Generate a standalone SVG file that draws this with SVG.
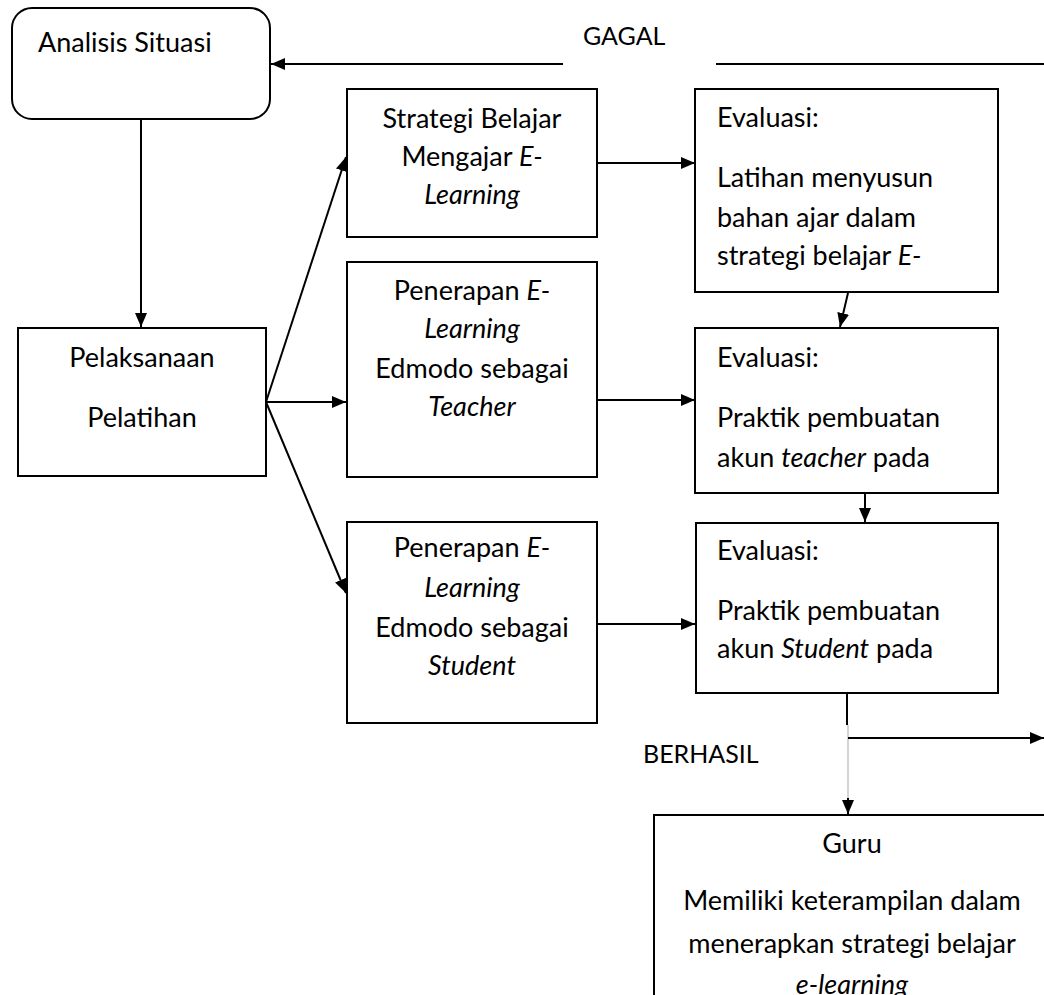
<svg xmlns="http://www.w3.org/2000/svg" width="1044" height="995" viewBox="0 0 1044 995">
<style>
.box{fill:#fff;stroke:#000;stroke-width:2}
.t{font-family:Lato,"Liberation Sans",sans-serif;font-size:27px;fill:#000}
.s{font-size:25px}
.c{text-anchor:middle}
.i{font-style:italic}
.ln{stroke:#000;stroke-width:2;fill:none}
</style>
<defs>
<marker id="ah" viewBox="0 0 14 12" refX="14" refY="6" markerWidth="14" markerHeight="12" markerUnits="userSpaceOnUse" orient="auto">
<path d="M0,0 L14,6 L0,12 Z" fill="#000"/>
</marker>
</defs>
<rect width="1044" height="995" fill="#fff"/>
<g id="connectors">
<line class="ln" x1="563" y1="64" x2="271" y2="64" marker-end="url(#ah)"/>
<line class="ln" x1="716" y1="64" x2="1044" y2="64"/>
<line class="ln" x1="141" y1="119" x2="141" y2="327" marker-end="url(#ah)"/>
<line class="ln" x1="266" y1="402" x2="346" y2="157" marker-end="url(#ah)"/>
<line class="ln" x1="266" y1="402" x2="346" y2="402" marker-end="url(#ah)"/>
<line class="ln" x1="266" y1="402" x2="346" y2="593" marker-end="url(#ah)"/>
<line class="ln" x1="597" y1="163" x2="695" y2="163" marker-end="url(#ah)"/>
<line class="ln" x1="597" y1="400" x2="695" y2="400" marker-end="url(#ah)"/>
<line class="ln" x1="597" y1="624" x2="695" y2="624" marker-end="url(#ah)"/>
<line class="ln" x1="848" y1="293" x2="840" y2="327" marker-end="url(#ah)"/>
<line class="ln" x1="865" y1="494" x2="865" y2="522" marker-end="url(#ah)"/>
<line class="ln" x1="847" y1="693" x2="847" y2="725"/>
<line x1="848" y1="725" x2="848" y2="802" stroke="#aaa" stroke-width="1"/>
<line class="ln" x1="848" y1="798" x2="848" y2="814" marker-end="url(#ah)"/>
<line class="ln" x1="848" y1="738" x2="1044" y2="738" marker-end="url(#ah)"/>
<text class="t s" x="583" y="45">GAGAL</text>
<text class="t s" x="643" y="763">BERHASIL</text>
</g>
<g id="analisis">
<rect class="box" x="12" y="8" width="258" height="111" rx="20"/>
<text class="t" x="38" y="52">Analisis Situasi</text>
</g>
<g id="pelaksanaan">
<rect class="box" x="18" y="328" width="248" height="148"/>
<text class="t c" x="142" y="367">Pelaksanaan</text>
<text class="t c" x="142" y="427">Pelatihan</text>
</g>
<g id="strategi">
<rect class="box" x="347" y="89" width="250" height="148"/>
<text class="t c" x="472" y="128">Strategi Belajar</text>
<text class="t c" x="472" y="166">Mengajar <tspan class="i">E-</tspan></text>
<text class="t c i" x="472" y="204">Learning</text>
</g>
<g id="penerapan-teacher">
<rect class="box" x="347" y="262" width="250" height="215"/>
<text class="t c" x="472" y="300">Penerapan <tspan class="i">E-</tspan></text>
<text class="t c i" x="472" y="338">Learning</text>
<text class="t c" x="472" y="378">Edmodo sebagai</text>
<text class="t c i" x="472" y="416">Teacher</text>
</g>
<g id="penerapan-student">
<rect class="box" x="347" y="522" width="250" height="201"/>
<text class="t c" x="472" y="557">Penerapan <tspan class="i">E-</tspan></text>
<text class="t c i" x="472" y="597">Learning</text>
<text class="t c" x="472" y="637">Edmodo sebagai</text>
<text class="t c i" x="472" y="675">Student</text>
</g>
<g id="evaluasi-1">
<rect class="box" x="695" y="89" width="303" height="203"/>
<text class="t" x="717" y="127">Evaluasi:</text>
<text class="t" x="717" y="187">Latihan menyusun</text>
<text class="t" x="717" y="227">bahan ajar dalam</text>
<text class="t" x="717" y="265">strategi belajar <tspan class="i">E-</tspan></text>
</g>
<g id="evaluasi-2">
<rect class="box" x="695" y="328" width="303" height="165"/>
<text class="t" x="717" y="367">Evaluasi:</text>
<text class="t" x="717" y="427">Praktik pembuatan</text>
<text class="t" x="717" y="467">akun <tspan class="i">teacher</tspan> pada</text>
</g>
<g id="evaluasi-3">
<rect class="box" x="696" y="523" width="302" height="170"/>
<text class="t" x="717" y="560">Evaluasi:</text>
<text class="t" x="717" y="620">Praktik pembuatan</text>
<text class="t" x="717" y="658">akun <tspan class="i">Student</tspan> pada</text>
</g>
<g id="guru">
<rect class="box" x="654" y="815" width="400" height="200"/>
<text class="t c" x="852" y="853">Guru</text>
<text class="t c" x="852" y="910">Memiliki keterampilan dalam</text>
<text class="t c" x="852" y="953">menerapkan strategi belajar</text>
<text class="t c i" x="852" y="994">e-learning</text>
</g>
</svg>
